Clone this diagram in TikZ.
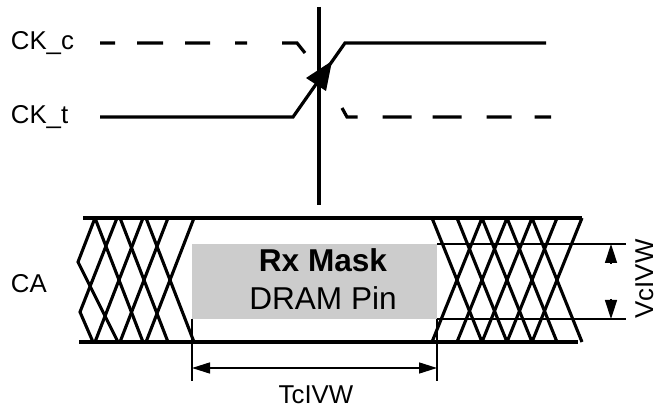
\documentclass[tikz,border=0pt]{standalone}
\usepackage{fontspec}
\setmainfont{Liberation Sans}
\usetikzlibrary{
    arrows.meta,
    positioning
}
\tikzset{dimtip/.tip  = {Triangle[length=9pt,width=5.5pt]},
         masktip/.tip = {Triangle[length=9.5pt,width=6pt]}}

\begin{document}
\begin{tikzpicture}[
    x=0.5pt, y=-0.5pt,
    sigline/.style   = {line width=1.6pt},
    hatchline/.style = {line width=1.55pt},
    thinline/.style  = {line width=0.6pt},
    dimline/.style   = {line width=0.75pt},
    siglabel/.style  = {inner sep=0pt, anchor=base west,
                        font=\fontsize{12.9}{15}\selectfont},
    masklabel/.style = {inner sep=0pt, anchor=base,
                        font=\fontsize{15.8}{19}\selectfont},
]
    \useasboundingbox (0,0) rectangle (659,411);

    %Labels
    \node[siglabel]              (ckc)   at (10.5,49.5) {CK\_c};
    \node[siglabel]              (ckt)   at (10.5,124)  {CK\_t};
    \node[siglabel]              (ca)    at (10.5,293)  {CA};
    \node[siglabel, anchor=base] (tcivw) at (316,403)   {TcIVW};
    \node[siglabel, anchor=base, rotate=90] (vcivw) at (653,279) {VcIVW};

    %Clock
    \draw[sigline] (319,7) -- (319,205);
    \draw[sigline] (100,117) -- (293,117) -- (345,43) -- (546,43);
    \draw[sigline, dash pattern=on 7.5pt off 11pt on 13pt off 11pt on 12.5pt off 12.5pt on 6pt off 17.5pt on 20pt]
        (100,43) -- (297,43) -- (305,53);
    \draw[sigline, dash pattern=on 10.5pt off 12.5pt on 14.5pt off 10.5pt on 14.5pt off 12.5pt on 12.5pt off 11.5pt on 10pt]
        (342,108) -- (347,117) -- (551,117);
    \fill (306,78) -- (332,61) -- (326,91) -- cycle;

    %Mask
    \fill[gray!40] (192,244) rectangle (437,319);
    \node[masklabel] (mask) at (323,272) {\bfseries Rx Mask};
    \node[masklabel] (pin) [below=19pt of mask.base, anchor=base] {DRAM Pin};

    %Eye, left side
    \foreach \x in {95,120,146} {
        \draw[hatchline] (\x,218) -- (\x+48,342);
        \draw[hatchline] (\x,342) -- (\x+48,218);
    }
    \draw[hatchline] (95,218) -- (78,262) -- (118,342);
    \draw[hatchline] (117,218) -- (80,312) -- (93,342);

    %Eye, right side
    \foreach \x in {432,457,482,507,532} {
        \draw[hatchline] (\x,218) -- (\x+50,342);
        \draw[hatchline] (\x,342) -- (\x+50,218);
    }

    %Bus
    \draw[sigline] (83,218) -- (582,218);
    \draw[sigline] (79,342) -- (578,342);

    %VcIVW
    \draw[thinline] (437,244) -- (626,244);
    \draw[thinline] (437,319) -- (626,319);
    \draw[dimline, -masktip] (611,264) -- (611,244);
    \draw[dimline, -masktip] (611,299) -- (611,319);

    %TcIVW
    \draw[thinline] (192,319) -- (192,381);
    \draw[thinline] (437,319) -- (437,381);
    \draw[dimline, dimtip-dimtip] (192,368) -- (437,368);
\end{tikzpicture}
\end{document}
